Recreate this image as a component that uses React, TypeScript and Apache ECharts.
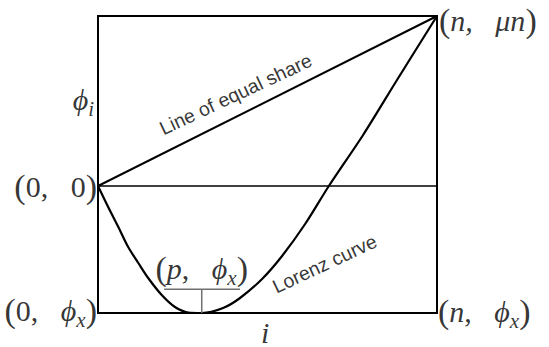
import React, { useEffect, useRef } from "react";
import * as echarts from "echarts";

// Horizontal axis: population rank i as % of n. Vertical axis: cumulative share (arbitrary units).
const X_MIN = 0;
const X_MAX = 100;
const Y_MIN = -127; // phi_x
const Y_MAX = 170; // mu * n

const lorenzX = [0, 3.0, 6.0, 8.9, 11.9, 14.8, 18.8, 22.7, 26.6, 30.6, 36.9, 41.9, 48.4, 54.3, 61.1, 68.1, 78.2, 88.2, 100];
const lorenzY = [0, -21, -41, -61, -77, -92, -109, -121, -126.5, -127, -122, -112, -93, -70, -38, 0, 51, 106, 170];

const equalX = [0, 100];
const equalY = [0, 170];

const zeroX = [0, 100];
const zeroY = [0, 0];

const minTickX = [19.5, 41.9];
const minTickY = -103.3;
const minX = 30.6;

const serif = "'Liberation Serif','Times New Roman',serif";
const sans = "'Liberation Sans',Arial,sans-serif";

const rich = {
  p: { fontFamily: serif, fontSize: 34, lineHeight: 40, color: "#000" },
  t: { fontFamily: serif, fontSize: 30, lineHeight: 40, color: "#000" },
  it: { fontFamily: serif, fontSize: 30, fontStyle: "italic", lineHeight: 40, color: "#000" },
  sub: { fontFamily: serif, fontSize: 21, fontStyle: "italic", lineHeight: 26, verticalAlign: "bottom", color: "#000" },
  iv: { fontFamily: serif, fontSize: 30, fontStyle: "italic", lineHeight: 22, color: "#000" },
};

function pt(x: number, y: number, label: any) {
  return { value: [x, y], label: { show: true, rich, ...label } };
}

export default function App() {
  const ref = useRef<HTMLDivElement>(null);
  useEffect(() => {
    document.body.style.margin = "0";
    const chart = echarts.init(ref.current!, undefined, { renderer: "svg" });
    const lineCommon = { type: "line", symbol: "none", silent: true, z: 3 } as any;
    chart.setOption({
      animation: false,
      grid: {
        left: 98,
        right: 112,
        top: 16,
        bottom: 34,
        show: true,
        borderColor: "#000",
        borderWidth: 2,
      },
      xAxis: { type: "value", min: X_MIN, max: X_MAX, show: false },
      yAxis: { type: "value", min: Y_MIN, max: Y_MAX, show: false },
      series: [
        {
          ...lineCommon,
          data: zeroX.map((x, i) => [x, zeroY[i]]),
          lineStyle: { color: "#000", width: 1.3 },
        },
        {
          ...lineCommon,
          data: equalX.map((x, i) => [x, equalY[i]]),
          lineStyle: { color: "#000", width: 2 },
        },
        {
          ...lineCommon,
          smooth: 0.3,
          data: lorenzX.map((x, i) => [x, lorenzY[i]]),
          lineStyle: { color: "#000", width: 2.2 },
        },
        {
          ...lineCommon,
          data: minTickX.map((x) => [x, minTickY]),
          lineStyle: { color: "#707070", width: 1.5 },
        },
        {
          ...lineCommon,
          data: [
            [minX, minTickY],
            [minX, Y_MIN],
          ],
          lineStyle: { color: "#707070", width: 1.5 },
        },
        {
          type: "scatter",
          symbolSize: 0,
          silent: true,
          z: 5,
          data: [
            pt(0, 0, { position: "left", distance: 1, formatter: "{p|(}{t|0,   0}{p|)}" }),
            pt(0, Y_MIN, { position: "left", distance: 1, offset: [0, -3], formatter: "{p|(}{t|0,   }{it|ϕ}{sub|x}{p|)}" }),
            pt(100, Y_MAX, { position: "right", distance: 2, offset: [0, 4], formatter: "{p|(}{it|n,   μn}{p|)}" }),
            pt(100, Y_MIN, { position: "right", distance: 1, offset: [0, -2], formatter: "{p|(}{it|n}{t|,   }{it|ϕ}{sub|x}{p|)}" }),
            pt(minX, minTickY, { position: "top", distance: 2, offset: [0, 1], formatter: "{p|(}{it|p}{t|,   }{it|ϕ}{sub|x}{p|)}" }),
            pt(0, 87, { position: "left", distance: 4, formatter: "{it|ϕ}{sub|i}" }),
            pt(49.3, Y_MIN, { position: "bottom", distance: 8, formatter: "{iv|i}" }),
            {
              value: [40.6, 92],
              label: {
                show: true,
                position: "inside",
                rotate: 25,
                formatter: "Line of equal share",
                fontFamily: sans,
                fontSize: 19.5,
                color: "#000",
              },
            },
            {
              value: [66.8, -77.6],
              label: {
                show: true,
                position: "inside",
                rotate: 25,
                formatter: "Lorenz curve",
                fontFamily: sans,
                fontSize: 19.5,
                color: "#000",
              },
            },
          ],
        },
      ],
    });
    return () => chart.dispose();
  }, []);
  return <div ref={ref} style={{ width: 549, height: 347 }} />;
}
